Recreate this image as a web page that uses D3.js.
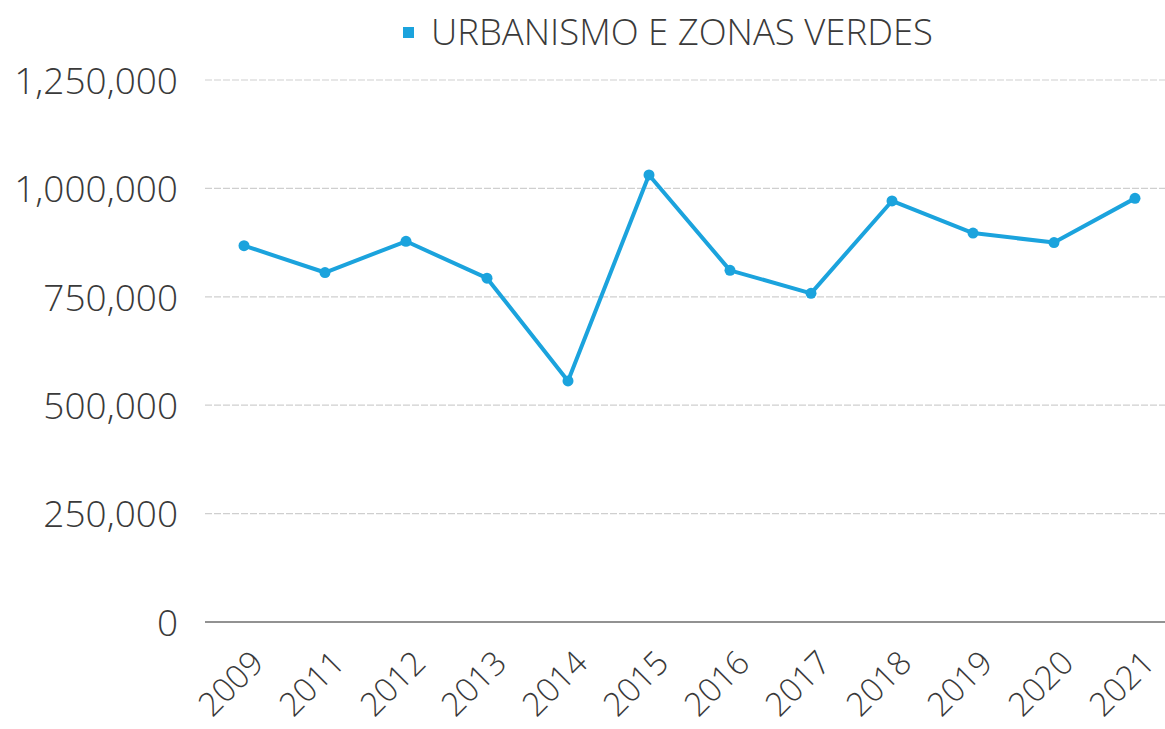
<!DOCTYPE html>
<html>
<head>
<meta charset="utf-8">
<script src="https://cdnjs.cloudflare.com/ajax/libs/d3/7.8.5/d3.min.js"></script>
<style>
  body { margin: 0; background: #fff; }
  text { font-family: "Open Sans", sans-serif; fill: #3a3a3a; }
</style>
</head>
<body>
<div id="chart"></div>
<script>
var svgWidth = 1165;
var svgHeight = 729;

// data
var years = ["2009", "2011", "2012", "2013", "2014", "2015", "2016", "2017", "2018", "2019", "2020", "2021"];
var values = [868000, 806000, 878000, 793000, 556000, 1031000, 811000, 758000, 971000, 897000, 875000, 977000];
var yTicks = [0, 250000, 500000, 750000, 1000000, 1250000];
var seriesName = "URBANISMO E ZONAS VERDES";

var lineColor = "#1ba3dd";

var svg = d3.select("#chart")
  .append("svg")
  .attr("width", svgWidth)
  .attr("height", svgHeight);

// x scale: one point per year
var xScale = d3.scalePoint()
  .domain(years)
  .range([244, 1135]);

var yScale = d3.scaleLinear()
  .domain([0, 1250000])
  .range([622, 80]);

// gridlines
svg.append("g")
  .selectAll("line")
  .data(yTicks.filter(d => d > 0))
  .enter()
  .append("line")
  .attr("x1", 205)
  .attr("x2", svgWidth)
  .attr("y1", d => yScale(d))
  .attr("y2", d => yScale(d))
  .attr("stroke", "#cfcfcf")
  .attr("stroke-width", 1.2)
  .attr("stroke-dasharray", "7,2");

// baseline
svg.append("line")
  .attr("x1", 205)
  .attr("x2", svgWidth)
  .attr("y1", yScale(0))
  .attr("y2", yScale(0))
  .attr("stroke", "#6e6e6e")
  .attr("stroke-width", 1.6);

// y axis labels
var leftAxis = d3.axisLeft(yScale)
  .tickValues(yTicks)
  .tickSize(0)
  .tickPadding(0)
  .tickFormat(d3.format(","));

var yAxisG = svg.append("g")
  .attr("transform", "translate(178,0)")
  .call(leftAxis);
yAxisG.select(".domain").remove();
yAxisG.selectAll("text")
  .attr("font-size", "37px")
  .attr("fill", "#444")
  .attr("font-weight", 300)
  .attr("dy", "0.36em")
  .style("font-family", "'Open Sans', sans-serif");

// x axis labels, rotated
var bottomAxis = d3.axisBottom(xScale).tickSize(0);
var xAxisG = svg.append("g")
  .attr("transform", "translate(0,622)")
  .call(bottomAxis);
xAxisG.select(".domain").remove();
xAxisG.selectAll("text")
  .attr("font-size", "33px")
  .attr("fill", "#444")
  .attr("font-weight", 300)
  .style("font-family", "'Open Sans', sans-serif")
  .attr("text-anchor", "end")
  .attr("dy", "0")
  .attr("y", 0)
  .attr("transform", "translate(21,43) rotate(-45)");

// the line
var line = d3.line()
  .x((d, i) => xScale(years[i]))
  .y(d => yScale(d));

svg.append("path")
  .datum(values)
  .attr("fill", "none")
  .attr("stroke", lineColor)
  .attr("stroke-width", 4)
  .attr("stroke-linejoin", "round")
  .attr("d", line);

svg.append("g")
  .selectAll("circle")
  .data(values)
  .enter()
  .append("circle")
  .attr("cx", (d, i) => xScale(years[i]))
  .attr("cy", d => yScale(d))
  .attr("r", 5.5)
  .attr("fill", lineColor);

// legend
var legend = svg.append("g");
legend.append("rect")
  .attr("x", 403)
  .attr("y", 27)
  .attr("width", 11)
  .attr("height", 11)
  .attr("fill", lineColor);
legend.append("text")
  .attr("x", 431)
  .attr("y", 45)
  .attr("font-size", "36.5px")
  .attr("font-weight", 300)
  .attr("fill", "#333")
  .text(seriesName);
</script>
</body>
</html>
